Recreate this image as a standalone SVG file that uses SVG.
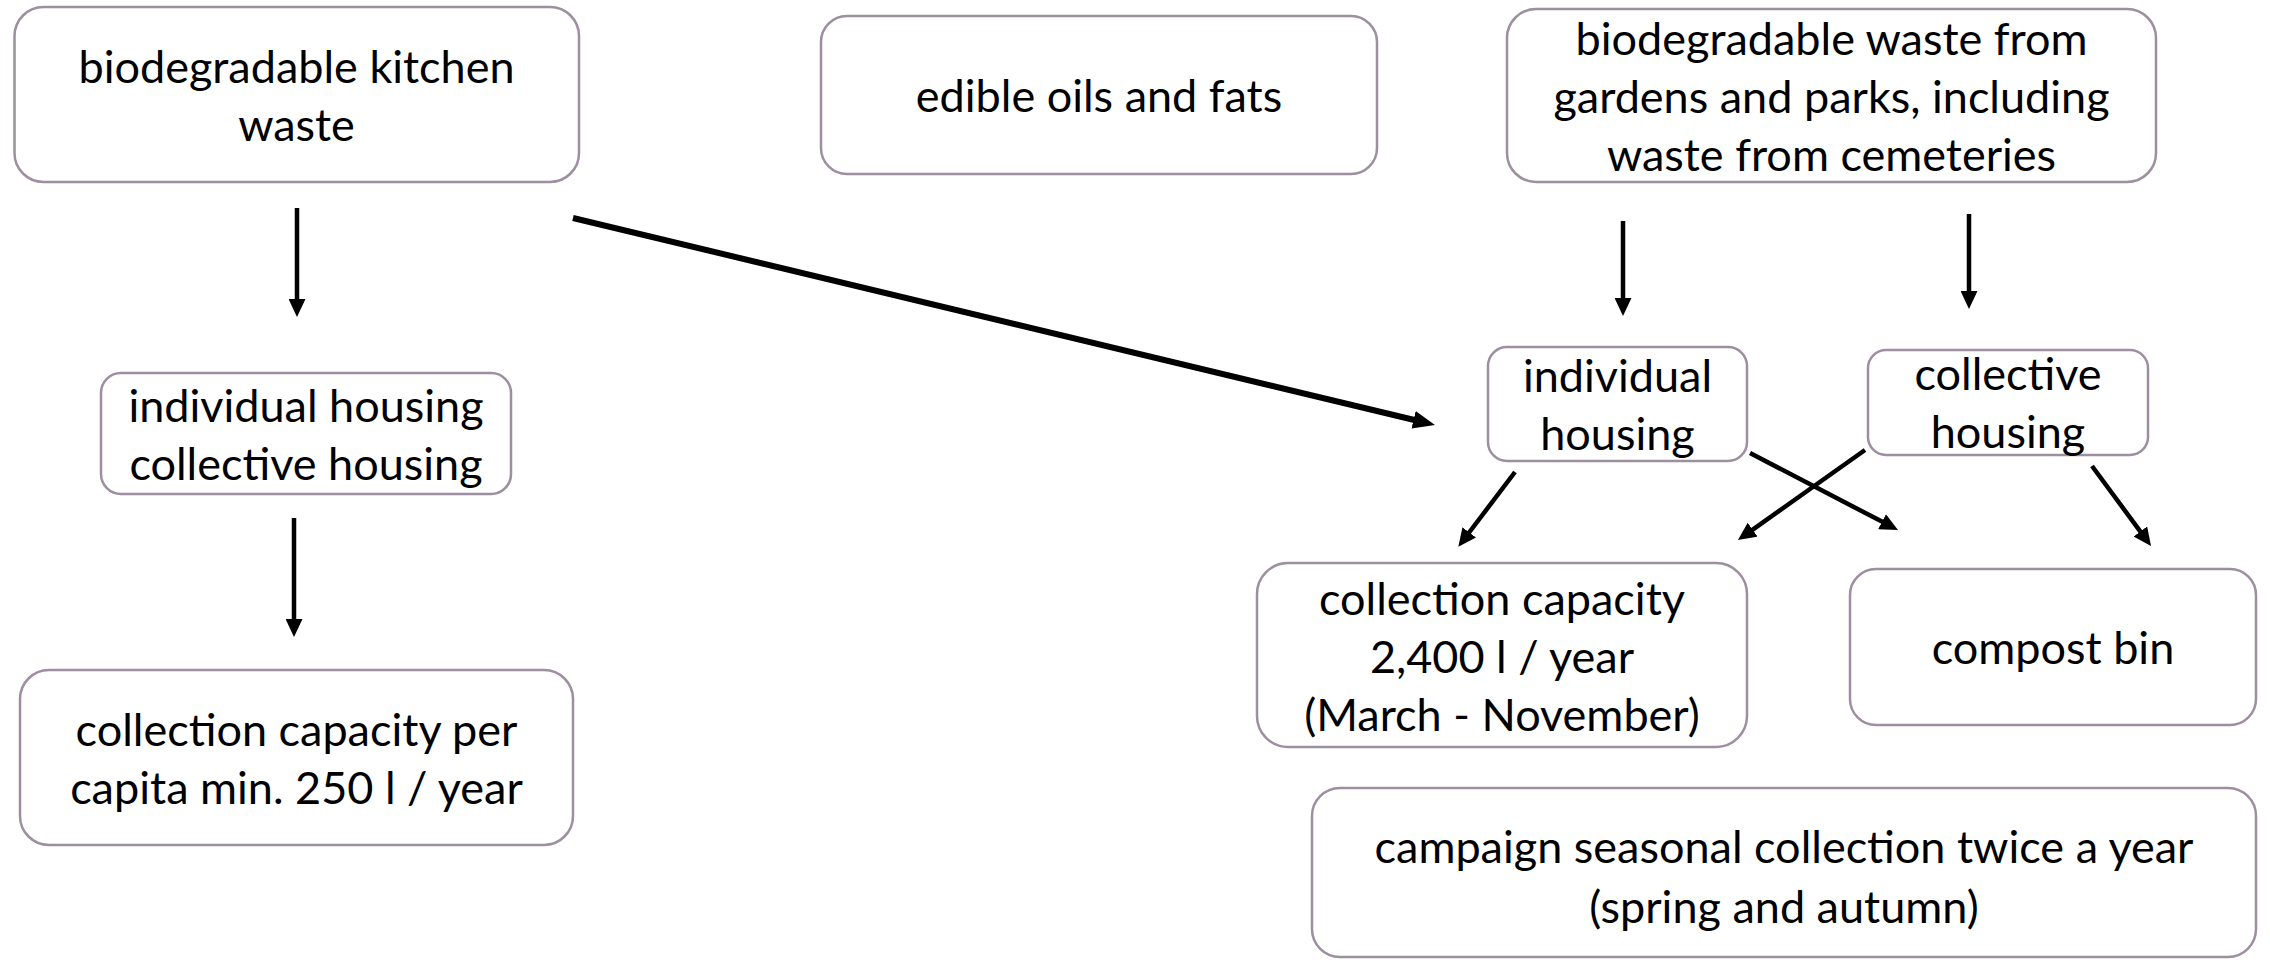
<svg xmlns="http://www.w3.org/2000/svg" width="2270" height="960" viewBox="0 0 2270 960">
<defs>
<style>
.box{fill:#ffffff;stroke:#9d8fa0;stroke-width:2.5}
.t{font-family:Lato,"Open Sans","Liberation Sans",sans-serif;font-size:45px;fill:#000;text-anchor:middle}
.c{stroke:#000;stroke-width:4.5;fill:none;marker-end:url(#ah)}
.cl{stroke:#000;stroke-width:6;fill:none;marker-end:url(#ahl)}
</style>
<marker id="ah" markerUnits="userSpaceOnUse" markerWidth="18" markerHeight="17" refX="2" refY="8.5" orient="auto"><path d="M0,0 L18,8.5 L0,17 z" fill="#000"/></marker>
<marker id="ahl" markerUnits="userSpaceOnUse" markerWidth="22" markerHeight="18" refX="3" refY="9" orient="auto"><path d="M0,0 L22,9 L0,18 z" fill="#000"/></marker>
</defs>
<rect width="2270" height="960" fill="#fff"/>
<g id="n1"><rect class="box" x="14.5" y="7" width="564.5" height="175" rx="29"/><text class="t" x="296.5" y="83">biodegradable kitchen</text><text class="t" x="296.5" y="141">waste</text></g>
<g id="n2"><rect class="box" x="821" y="16" width="556" height="158" rx="26"/><text class="t" x="1099" y="112">edible oils and fats</text></g>
<g id="n3"><rect class="box" x="1507" y="9" width="649" height="173" rx="29"/><text class="t" x="1831.5" y="55">biodegradable waste from</text><text class="t" x="1831.5" y="113">gardens and parks, including</text><text class="t" x="1831.5" y="171">waste from cemeteries</text></g>
<g id="n4"><rect class="box" x="101" y="373" width="410" height="121" rx="20"/><text class="t" x="306" y="422">individual housing</text><text class="t" x="306" y="480">collective housing</text></g>
<g id="n5"><rect class="box" x="20" y="670" width="553" height="175" rx="29"/><text class="t" x="296.5" y="746">collection capacity per</text><text class="t" x="296.5" y="804">capita min. 250 l / year</text></g>
<g id="n6"><rect class="box" x="1488" y="347" width="259" height="114" rx="19"/><text class="t" x="1617.5" y="392">individual</text><text class="t" x="1617.5" y="450">housing</text></g>
<g id="n7"><rect class="box" x="1868" y="350" width="280" height="105" rx="18"/><text class="t" x="2008" y="390">collective</text><text class="t" x="2008" y="448">housing</text></g>
<g id="n8"><rect class="box" x="1257" y="563" width="490" height="184" rx="31"/><text class="t" x="1502" y="615">collection capacity</text><text class="t" x="1502" y="673">2,400 l / year</text><text class="t" x="1502" y="731">(March - November)</text></g>
<g id="n9"><rect class="box" x="1850" y="569" width="406" height="156" rx="26"/><text class="t" x="2053" y="664">compost bin</text></g>
<g id="n10"><rect class="box" x="1312" y="788" width="944" height="169" rx="28"/><text class="t" x="1784" y="863">campaign seasonal collection twice a year</text><text class="t" x="1784" y="923">(spring and autumn)</text></g>
<g id="connectors">
<line class="c" x1="297" y1="208" x2="297" y2="301"/>
<line class="c" x1="294" y1="518" x2="294" y2="621"/>
<line class="cl" x1="573" y1="218" x2="1416.5" y2="420.5"/>
<line class="c" x1="1623" y1="221" x2="1623" y2="300"/>
<line class="c" x1="1969" y1="214" x2="1969" y2="293"/>
<line class="c" x1="1515" y1="472" x2="1468" y2="534"/>
<line class="c" x1="1750" y1="453" x2="1883.8" y2="522.6"/>
<line class="c" x1="1865" y1="450" x2="1751" y2="530.8"/>
<line class="c" x1="2092" y1="466" x2="2141.5" y2="533.1"/>
</g>
</svg>
